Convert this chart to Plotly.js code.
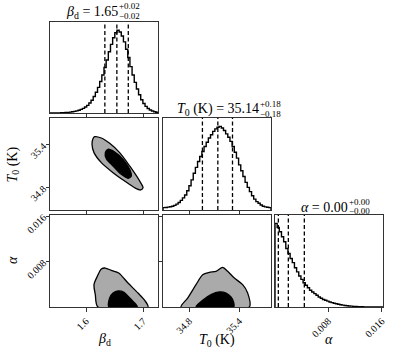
<!DOCTYPE html>
<html>
<head>
<meta charset="utf-8">
<script src="https://cdn.plot.ly/plotly-3.0.1.min.js"></script>
<style>html,body{margin:0;padding:0;background:#fff;}#chart{width:397px;height:353px;}</style>
</head>
<body>
<div id="chart"></div>
<script>
// ---- data ----
const betaRange = [1.537, 1.726];
const t0Range = [34.484, 35.78];
const alphaRange = [0, 0.0162];

const betaTicks = [1.6, 1.7];
const t0Ticks = [34.8, 35.4];
const alphaTicks = [0.008, 0.016];
const betaTickText = ["1.6", "1.7"];
const t0TickText = ["34.8", "35.4"];
const alphaTickText = ["0.008", "0.016"];

// histogram heights (50 bins over each axis range)
const betaHist = [0,0,0,0.001,0.002,0.003,0.004,0.006,0.008,0.011,0.015,0.02,0.026,0.034,0.044,0.056,0.072,0.092,0.12,0.155,0.20,0.25,0.31,0.38,0.46,0.55,0.64,0.74,0.83,0.91,0.97,1.0,0.98,0.93,0.86,0.77,0.67,0.56,0.46,0.37,0.29,0.22,0.16,0.115,0.08,0.055,0.037,0.024,0.015,0.009];
const t0Hist = [0.028,0.03,0.034,0.038,0.045,0.055,0.07,0.09,0.115,0.145,0.18,0.23,0.29,0.36,0.44,0.51,0.58,0.64,0.70,0.76,0.81,0.86,0.90,0.94,0.97,0.99,1.0,0.98,0.95,0.91,0.87,0.82,0.76,0.69,0.62,0.54,0.47,0.40,0.33,0.27,0.22,0.17,0.13,0.10,0.08,0.06,0.045,0.037,0.032,0.028];
const alphaHist = [1.0,0.95,0.90,0.84,0.78,0.70,0.64,0.58,0.53,0.47,0.42,0.37,0.33,0.29,0.26,0.23,0.20,0.18,0.16,0.14,0.12,0.105,0.09,0.08,0.07,0.06,0.052,0.045,0.038,0.032,0.027,0.022,0.018,0.015,0.012,0.010,0.008,0.006,0.005,0.004,0.003,0.002,0.002,0.001,0.001,0.001,0,0,0,0];

// quantiles (16, 50, 84 %)
const betaQ = [1.633, 1.654, 1.674];
const t0Q = [34.957, 35.142, 35.318];
const alphaQ = [0.0005, 0.002, 0.0044];

// contour outlines (outer = gray level, inner = black level)
const btOuterBeta = [1.6152,1.6268,1.6414,1.6589,1.6764,1.6939,1.6998,1.6957,1.6852,1.6677,1.6473,1.6268,1.6140,1.6105,1.6122];
const btOuterT0   = [35.517,35.498,35.423,35.292,35.104,34.892,34.798,34.766,34.798,34.892,35.010,35.151,35.292,35.409,35.489];
const btInnerBeta = [1.6385,1.6502,1.6648,1.6764,1.6793,1.6735,1.6618,1.6473,1.6356,1.6338];
const btInnerT0   = [35.339,35.301,35.198,35.057,34.963,34.930,34.986,35.104,35.207,35.292];

const baOuterBeta  = [1.621,1.6163,1.614,1.6198,1.6268,1.6338,1.6443,1.6572,1.6735,1.691,1.7027,1.7085];
const baOuterAlpha = [0,0.00217,0.00393,0.0054,0.00669,0.00686,0.00645,0.00598,0.00422,0.00246,0.00117,0];
const baInnerBeta  = [1.6403,1.6414,1.6473,1.656,1.6665,1.6735,1.6823,1.6898];
const baInnerAlpha = [0,0.00158,0.00246,0.00282,0.00258,0.00188,0.001,0];

const taOuterT0    = [34.70,34.78,34.88,34.96,35.04,35.12,35.20,35.26,35.34,35.44,35.50,35.52];
const taOuterAlpha = [0,0.00158,0.00393,0.00569,0.0061,0.00628,0.00698,0.00628,0.0051,0.00393,0.00246,0];
const taInnerT0    = [34.88,34.96,35.06,35.16,35.24,35.30,35.332,35.332];
const taInnerAlpha = [0,0.00117,0.00217,0.00264,0.00246,0.00176,0.00082,0];

// ---- helpers ----
const W = 397, H = 353;
const FONT = "Liberation Serif, DejaVu Serif, serif";
function pxX(x){ return x / W; }
function pxY(y){ return 1 - y / H; }

function stepTrace(hist, range, xa, ya){
  const n = hist.length, w = (range[1]-range[0])/n;
  const xs = [range[0]], ys = [0];
  for (let i=0;i<n;i++){ xs.push(range[0]+i*w); ys.push(hist[i]); }
  xs.push(range[1]); ys.push(hist[n-1]);
  xs.push(range[1]); ys.push(0);
  return {type:'scatter', mode:'lines', x:xs, y:ys, xaxis:xa, yaxis:ya,
          line:{color:'#000', width:1.4, shape:'hv'}, hoverinfo:'skip', showlegend:false};
}
function qTraces(q, top, xa, ya){
  return q.map(v => ({type:'scatter', mode:'lines', x:[v,v], y:[0,top], xaxis:xa, yaxis:ya,
     line:{color:'#000', width:1.3, dash:'4px,2.5px'}, hoverinfo:'skip', showlegend:false}));
}
function poly(xs, ys, fill, xa, ya){
  return {type:'scatter', mode:'lines', x:xs.concat([xs[0]]), y:ys.concat([ys[0]]), xaxis:xa, yaxis:ya,
          fill:'toself', fillcolor:fill, line:{color:'#000', width:1.3, shape:'spline', smoothing:0.8},
          hoverinfo:'skip', showlegend:false};
}
const max = a => Math.max.apply(null, a);
const bTop = 1.1*max(betaHist), tTop = 1.1*max(t0Hist), aTop = 1.1*max(alphaHist);

const traces = [].concat(
  [stepTrace(betaHist, betaRange, 'x', 'y')], qTraces(betaQ, bTop, 'x', 'y'),
  [poly(btOuterBeta, btOuterT0, '#aaaaaa', 'x2', 'y2'), poly(btInnerBeta, btInnerT0, '#000000', 'x2', 'y2')],
  [poly(baOuterBeta, baOuterAlpha, '#aaaaaa', 'x3', 'y3'), poly(baInnerBeta, baInnerAlpha, '#000000', 'x3', 'y3')],
  [stepTrace(t0Hist, t0Range, 'x4', 'y4')], qTraces(t0Q, tTop, 'x4', 'y4'),
  [poly(taOuterT0, taOuterAlpha, '#aaaaaa', 'x5', 'y5'), poly(taInnerT0, taInnerAlpha, '#000000', 'x5', 'y5')],
  [stepTrace(alphaHist, alphaRange, 'x6', 'y6')], qTraces(alphaQ, aTop, 'x6', 'y6')
);

const cols = [[50,158],[163,271],[275,383]];
const rows = [[22,113],[118,210],[215,307]];
function xDom(c){ return [pxX(cols[c][0]), pxX(cols[c][1])]; }
function yDom(r){ return [pxY(rows[r][1]), pxY(rows[r][0])]; }

function axis(dom, anchor, range, tv, tt, labels, ticks){
  return {domain:dom, anchor:anchor, range:range, showgrid:false, zeroline:false,
    showline:true, mirror:true, linecolor:'#333', linewidth:1,
    ticks: ticks ? 'outside' : '', ticklen:3.5, tickwidth:1, tickcolor:'#333',
    tickmode:'array', tickvals: ticks ? tv : [], ticktext: ticks ? tt : [],
    showticklabels: labels, tickangle:-45,
    tickfont:{family:FONT, size:10, color:'#000'}, fixedrange:true};
}

const layout = {
  width:W, height:H, margin:{l:0,r:0,t:0,b:0}, paper_bgcolor:'#fff', plot_bgcolor:'#fff',
  showlegend:false,
  xaxis:  axis(xDom(0),'y', betaRange, betaTicks, betaTickText, false, true),
  yaxis:  axis(yDom(0),'x', [0,bTop], [], [], false, false),
  xaxis2: axis(xDom(0),'y2', betaRange, betaTicks, betaTickText, false, true),
  yaxis2: axis(yDom(1),'x2', t0Range, t0Ticks, t0TickText, true, true),
  xaxis3: axis(xDom(0),'y3', betaRange, betaTicks, betaTickText, true, true),
  yaxis3: axis(yDom(2),'x3', alphaRange, alphaTicks, alphaTickText, true, true),
  xaxis4: axis(xDom(1),'y4', t0Range, t0Ticks, t0TickText, false, true),
  yaxis4: axis(yDom(1),'x4', [0,tTop], [], [], false, false),
  xaxis5: axis(xDom(1),'y5', t0Range, t0Ticks, t0TickText, true, true),
  yaxis5: axis(yDom(2),'x5', alphaRange, alphaTicks, alphaTickText, false, true),
  xaxis6: axis(xDom(2),'y6', alphaRange, alphaTicks, alphaTickText, true, true),
  yaxis6: axis(yDom(2),'x6', [0,aTop], [], [], false, false),
  annotations: []
};

function ann(text, x, y, size, xanchor, angle){
  return {text:text, x:pxX(x), y:pxY(y), xref:'paper', yref:'paper', showarrow:false,
    xanchor:xanchor||'center', yanchor:'middle', textangle:angle||0, borderpad:0,
    font:{family:FONT, size:size, color:'#000'}};
}
// titles: main part + stacked upper/lower errors
function title(main, up, lo, xSplit, yMain, yUp, yLo){
  return [ann(main, xSplit, yMain, 14, 'right'), ann(up, xSplit-1, yUp, 9, 'left'), ann(lo, xSplit-1, yLo, 9, 'left')];
}
layout.annotations = layout.annotations.concat(
  title('<i>β</i><sub>d</sub> = 1.65', '+0.02', '−0.02', 119, 13, 6, 16.5),
  title('<i>T</i><sub>0</sub> (K) = 35.14', '+0.18', '−0.18', 260, 109.5, 104.5, 113.5),
  title('<i>α</i> = 0.00', '+0.00', '−0.00', 349, 207.5, 202, 210.5),
  [ann('<i>T</i><sub>0</sub> (K)', 13, 164.5, 14, 'center', -90),
   ann('<i>α</i>', 12, 260, 14, 'center', -90),
   ann('<i>β</i><sub>d</sub>', 104, 339, 14),
   ann('<i>T</i><sub>0</sub> (K)', 217, 340, 14),
   ann('<i>α</i>', 329, 339, 14)]
);

Plotly.newPlot('chart', traces, layout, {displayModeBar:false, staticPlot:true});
</script>
</body>
</html>
